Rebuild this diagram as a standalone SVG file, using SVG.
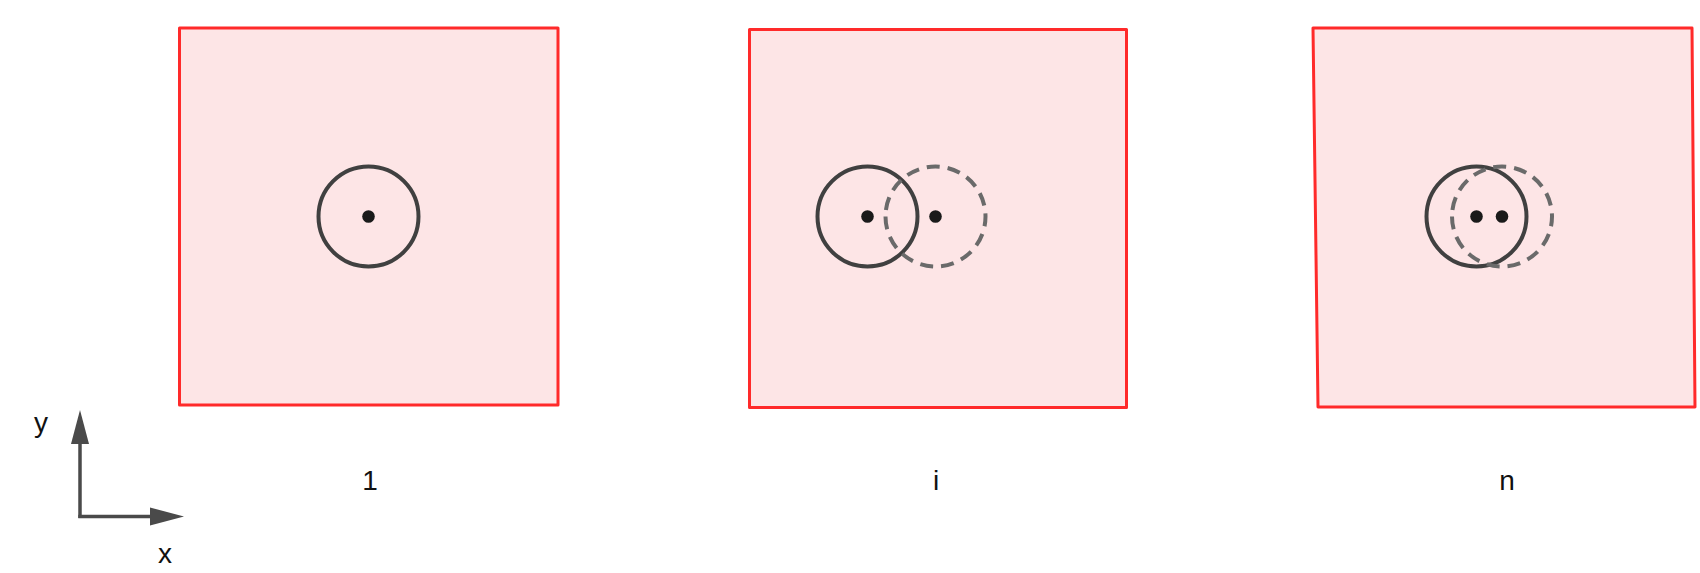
<svg xmlns="http://www.w3.org/2000/svg" width="1700" height="573" viewBox="0 0 1700 573">
<style>
.sq{fill:#fde5e6;stroke:#ff2a2a;stroke-width:3;stroke-linejoin:round}
.c{fill:none;stroke:#404040;stroke-width:4}
.d{fill:none;stroke:#6a6a6a;stroke-width:4;stroke-dasharray:13 8}
.dot{fill:#1a1a1a}
.lbl{font-family:"Liberation Sans",Arial,sans-serif;font-size:28px;fill:#111;text-anchor:middle}
.ax{stroke:#4a4a4a;stroke-width:3.5;fill:none}
.ah{fill:#4a4a4a}
</style>
<g id="frame1">
<rect class="sq" x="179.5" y="28" width="378.5" height="377"/>
<path class="c" d="M318.5,216.5 a50,50 0 1,0 100,0 a50,50 0 1,0 -100,0 Z"/>
<circle class="dot" cx="368.5" cy="216.5" r="6.3"/>
<text class="lbl" x="370" y="490">1</text>
</g>
<g id="frame_i">
<rect class="sq" x="749.5" y="29.5" width="377" height="378"/>
<path class="c" d="M817.5,216.5 a50,50 0 1,0 100,0 a50,50 0 1,0 -100,0 Z"/>
<path class="d" d="M885.5,216.5 a50,50 0 1,0 100,0 a50,50 0 1,0 -100,0 Z"/>
<circle class="dot" cx="867.5" cy="216.5" r="6.3"/>
<circle class="dot" cx="935.5" cy="216.5" r="6.3"/>
<text class="lbl" x="936" y="490">i</text>
</g>
<g id="frame_n">
<polygon class="sq" points="1313,28 1692,28 1695,407 1318,407"/>
<path class="c" d="M1426.5,216.5 a50,50 0 1,0 100,0 a50,50 0 1,0 -100,0 Z"/>
<path class="d" d="M1452,216.5 a50,50 0 1,0 100,0 a50,50 0 1,0 -100,0 Z"/>
<circle class="dot" cx="1476.5" cy="216.5" r="6.3"/>
<circle class="dot" cx="1502" cy="216.5" r="6.3"/>
<text class="lbl" x="1507" y="490">n</text>
</g>
<g id="axes">
<line class="ax" x1="80" y1="518" x2="80" y2="440"/>
<line class="ax" x1="78.3" y1="516.5" x2="152" y2="516.5"/>
<polygon class="ah" points="80,410 89,444 71,444"/>
<polygon class="ah" points="184,516.5 150,507.5 150,525.5"/>
<text class="lbl" x="41" y="432">y</text>
<text class="lbl" x="165" y="563">x</text>
</g>
</svg>
